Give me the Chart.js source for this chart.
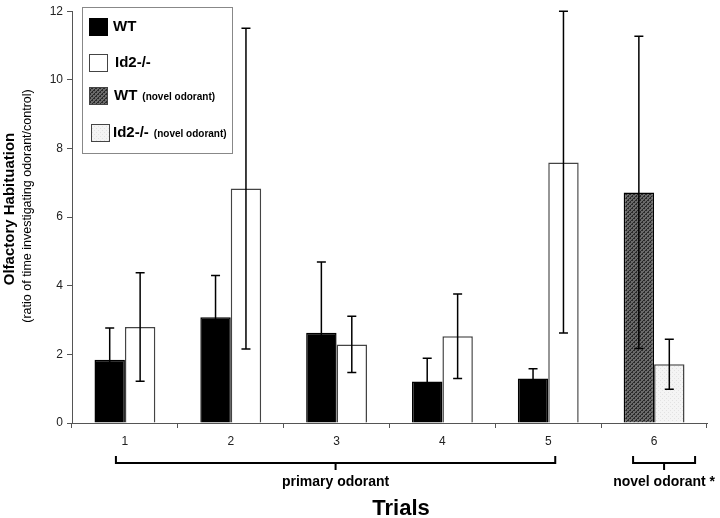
<!DOCTYPE html>
<html>
<head>
<meta charset="utf-8">
<script src="https://cdn.jsdelivr.net/npm/chart.js@4"></script>
<style>
  body { margin: 0; background: #fff; }
</style>
</head>
<body>
<canvas id="habChart" width="720" height="518"></canvas>
<script>
// Data
const trials = ['1', '2', '3', '4', '5', '6'];
const wtMeans = [1.84, 3.08, 2.63, 1.21, 1.30, 6.72];
const wtErrors = [0.93, 1.22, 2.06, 0.68, 0.28, 4.55];
const id2Means = [2.80, 6.83, 2.29, 2.53, 7.59, 1.71];
const id2Errors = [1.58, 4.67, 0.82, 1.23, 4.97, 0.73];
const yMax = 12;
const yStep = 2;
const legendNames = ['WT', 'Id2-/-', 'WT', 'Id2-/-'];
const legendNotes = ['', '', '(novel odorant)', '(novel odorant)'];
const yTitle = 'Olfactory Habituation';
const ySubtitle = '(ratio of time investigating odorant/control)';
const xTitle = 'Trials';
const groupLabels = ['primary odorant', 'novel odorant *'];

const narrow = '"Liberation Sans Narrow", "Liberation Sans", Arial, sans-serif';
const sans = '"Liberation Sans", Arial, sans-serif';

// fill patterns for the novel odorant bars
function makePattern(bg, fg, dense) {
    const c = document.createElement('canvas');
    c.width = 4; c.height = 4;
    const g = c.getContext('2d');
    g.fillStyle = bg;
    g.fillRect(0, 0, 4, 4);
    g.fillStyle = fg;
    if (dense) {
        for (let i = 0; i < 4; i++) g.fillRect(i, 3 - i, 1, 1);
        g.fillRect(0, 0, 1, 1); g.fillRect(2, 2, 1, 1);
    } else {
        g.fillRect(0, 0, 1, 1); g.fillRect(2, 2, 1, 1);
    }
    return g.createPattern(c, 'repeat');
}
const wtNovelFill = makePattern('#6a6a6a', '#2a2a2a', true);
const id2NovelFill = makePattern('#f4f4f4', '#e2e2e2', false);

const wtColors = trials.map((t, i) => i === 5 ? wtNovelFill : '#000');
const id2Colors = trials.map((t, i) => i === 5 ? id2NovelFill : '#fff');

// error bars
const errorBars = {
    id: 'errorBars',
    afterDatasetsDraw(chart) {
        const ctx = chart.ctx;
        const y = chart.scales.y;
        const area = chart.chartArea;
        [[wtMeans, wtErrors], [id2Means, id2Errors]].forEach(([means, errs], d) => {
            chart.getDatasetMeta(d).data.forEach((bar, j) => {
                const top = Math.max(area.top, y.getPixelForValue(means[j] + errs[j]));
                const bot = y.getPixelForValue(Math.max(0, means[j] - errs[j]));
                ctx.save();
                ctx.strokeStyle = '#000';
                ctx.lineWidth = 1.5;
                ctx.beginPath();
                ctx.moveTo(bar.x, top); ctx.lineTo(bar.x, bot);
                ctx.moveTo(bar.x - 4.5, top); ctx.lineTo(bar.x + 4.5, top);
                ctx.moveTo(bar.x - 4.5, bot); ctx.lineTo(bar.x + 4.5, bot);
                ctx.stroke();
                ctx.restore();
            });
        });
    }
};

// legend box, axis titles and the group brackets
const annotations = {
    id: 'annotations',
    afterDraw(chart) {
        const ctx = chart.ctx;
        const x = chart.scales.x;
        ctx.save();

        // legend
        ctx.strokeStyle = '#888';
        ctx.lineWidth = 1;
        ctx.fillStyle = '#fff';
        ctx.fillRect(82.5, 7.5, 150, 146);
        ctx.strokeRect(82.5, 7.5, 150, 146);
        const swatches = ['#000', '#fff', wtNovelFill, id2NovelFill];
        const rowY = [27, 63, 96, 133];
        const swX = [89, 89, 89, 91];
        const textX = [113, 115, 114, 113];
        legendNames.forEach((name, i) => {
            ctx.fillStyle = swatches[i];
            ctx.fillRect(swX[i], rowY[i] - 9, 19, 18);
            ctx.strokeStyle = i === 0 ? '#000' : '#444';
            ctx.lineWidth = 1;
            ctx.strokeRect(swX[i] + 0.5, rowY[i] - 8.5, 18, 17);
            ctx.fillStyle = '#000';
            ctx.textBaseline = 'middle';
            ctx.textAlign = 'left';
            ctx.font = 'bold 15px ' + sans;
            ctx.fillText(name, textX[i], rowY[i]);
            if (legendNotes[i]) {
                const w = ctx.measureText(name).width;
                ctx.font = 'bold 10px ' + sans;
                ctx.fillText(legendNotes[i], textX[i] + w + 5, rowY[i] + 1);
            }
        });

        // y titles
        ctx.fillStyle = '#000';
        ctx.textAlign = 'center';
        ctx.textBaseline = 'middle';
        ctx.save();
        ctx.translate(10, 209);
        ctx.rotate(-Math.PI / 2);
        ctx.font = 'bold 15px ' + sans;
        ctx.fillText(yTitle, 0, 0);
        ctx.restore();
        ctx.save();
        ctx.translate(28, 206);
        ctx.rotate(-Math.PI / 2);
        ctx.font = '12.5px ' + narrow;
        ctx.fillText(ySubtitle, 0, 0);
        ctx.restore();

        // brackets under the axis
        const groups = [
            [x.getPixelForValue(0) - 9, x.getPixelForValue(4) + 7],
            [x.getPixelForValue(5) - 21, x.getPixelForValue(5) + 41]
        ];
        ctx.strokeStyle = '#000';
        ctx.lineWidth = 2;
        groups.forEach(([l, r], i) => {
            const m = (l + r) / 2;
            ctx.beginPath();
            ctx.moveTo(l, 456); ctx.lineTo(l, 463); ctx.lineTo(r, 463); ctx.lineTo(r, 456);
            ctx.moveTo(m, 463); ctx.lineTo(m, 470);
            ctx.stroke();
            ctx.font = 'bold 14px ' + narrow;
            ctx.fillText(groupLabels[i], m, 482);
        });

        ctx.font = 'bold 22px ' + narrow;
        ctx.fillText(xTitle, 401, 509);
        ctx.restore();
    }
};

const ctx = document.getElementById('habChart').getContext('2d');
const habChart = new Chart(ctx, {
    type: 'bar',
    data: {
        labels: trials,
        datasets: [{
            label: 'WT',
            data: wtMeans,
            backgroundColor: wtColors,
            borderColor: '#000',
            borderWidth: 1.5
        }, {
            label: 'Id2-/-',
            data: id2Means,
            backgroundColor: id2Colors,
            borderColor: '#444',
            borderWidth: 1.5
        }]
    },
    options: {
        responsive: false,
        animation: false,
        layout: { padding: { top: 7, right: 13, left: 0, bottom: 0 } },
        datasets: { bar: { categoryPercentage: 0.575, barPercentage: 1 } },
        plugins: {
            legend: { display: false },
            tooltip: { enabled: false }
        },
        scales: {
            x: {
                grid: { drawOnChartArea: false, tickLength: 5, color: '#555' },
                border: { color: '#555', width: 1 },
                ticks: { color: '#222', padding: 6, font: { size: 12, family: sans } },
                afterFit: s => { s.height = 95; }
            },
            y: {
                min: 0,
                max: yMax,
                grid: { drawOnChartArea: false, tickLength: 5, color: '#555' },
                border: { color: '#555', width: 1 },
                ticks: { stepSize: yStep, color: '#222', padding: 4, font: { size: 12, family: sans } },
                afterFit: s => { s.width = 72; }
            }
        }
    },
    plugins: [errorBars, annotations]
});
</script>
</body>
</html>
